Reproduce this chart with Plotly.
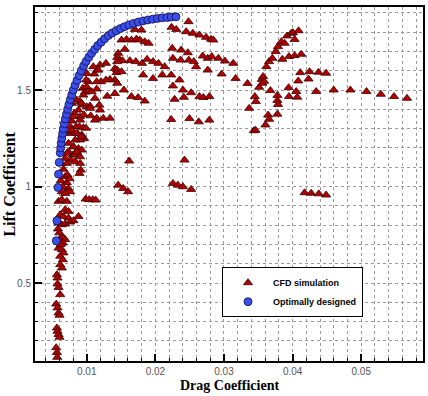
import plotly.graph_objects as go

# ---- CFD simulation samples (drag, lift) ----
cfd_drag = [
    0.00555, 0.00565, 0.00570,
    0.00565, 0.00574, 0.00589, 0.00603,
    0.00555, 0.00574, 0.00589, 0.00603,
    0.00574, 0.00589, 0.00613,
    0.00565, 0.00574,
    0.00613, 0.00637,
    0.00589, 0.00637, 0.00661, 0.00613, 0.00652,
    0.00637, 0.00661, 0.00686, 0.00652, 0.00620,
    0.00589, 0.00637, 0.00686, 0.00580, 0.00600,
    0.00613, 0.00661, 0.00734, 0.00758, 0.00807, 0.00879,
    0.00589, 0.00637, 0.00710, 0.00686, 0.00734,
    0.00985, 0.01035, 0.01085, 0.01130,
    0.00629, 0.00661, 0.00686, 0.00710, 0.00734, 0.00758, 0.00637, 0.00686, 0.00620, 0.00650,
    0.00807, 0.00879, 0.00927, 0.00864, 0.00797, 0.00768, 0.00831, 0.00903, 0.00913, 0.00894,
    0.00710, 0.00686, 0.00734, 0.00720, 0.00750,
    0.00734, 0.00797, 0.00864, 0.00927, 0.00961, 0.00903, 0.00831,
    0.00845, 0.00894, 0.00951, 0.00990,
    0.00903, 0.00961, 0.01058, 0.01145, 0.01241, 0.01338,
    0.00879, 0.00820, 0.00780, 0.00760,
    0.00903, 0.00942, 0.01000, 0.01048, 0.01183,
    0.00942, 0.00976, 0.01024, 0.01145, 0.01024, 0.00990,
    0.01299, 0.01410, 0.01541, 0.01651, 0.01748, 0.01845,
    0.01410, 0.01444, 0.01338, 0.01280, 0.01208, 0.01145,
    0.01410, 0.01444, 0.01434, 0.01507,
    0.01821, 0.01966, 0.02101, 0.02231, 0.02352,
    0.01193, 0.01280, 0.01154, 0.01111,
    0.00784, 0.00855, 0.00927, 0.00806, 0.00903, 0.00782, 0.00855, 0.00927,
    0.00734, 0.00806, 0.00855, 0.00710, 0.00903,
    0.00999, 0.01072, 0.01120, 0.01193, 0.00951, 0.01048, 0.01120,
    0.01000, 0.01096, 0.01168,
    0.01458, 0.01444, 0.01483, 0.01521, 0.01444,
    0.01628, 0.01715, 0.01806, 0.01879, 0.01966, 0.02044, 0.02135,
    0.01555,
    0.01507, 0.01579, 0.01651, 0.01724, 0.01772, 0.01845, 0.01902,
    0.01701, 0.01797,
    0.02483, 0.02236, 0.02304, 0.02449, 0.02545, 0.02642, 0.02739, 0.02811, 0.02845,
    0.02246, 0.02256, 0.02376, 0.02367, 0.02473, 0.02487, 0.02560, 0.02594, 0.02690, 0.02763,
    0.02821, 0.02763,
    0.02918, 0.03014, 0.03135, 0.02966, 0.03169, 0.03343, 0.03512,
    0.02256, 0.02401, 0.02521, 0.02642, 0.02700, 0.02787, 0.02280, 0.02415,
    0.02231, 0.02497, 0.02632, 0.02787,
    0.03367, 0.03449, 0.03464, 0.03435, 0.03459, 0.03604, 0.03643, 0.03657, 0.03778,
    0.03676, 0.03778, 0.03778, 0.03787, 0.03942, 0.03947, 0.04053, 0.04068,
    0.04343, 0.04599, 0.04841, 0.05077, 0.05285, 0.05478, 0.05667,
    0.03550, 0.03570, 0.03585, 0.03560,
    0.03618, 0.03657, 0.03705, 0.03754, 0.03787, 0.03836, 0.03918, 0.03981, 0.04029, 0.04005,
    0.04087, 0.03884,
    0.03850, 0.03947, 0.04029, 0.04126,
    0.04111, 0.04246, 0.04377, 0.04488,
    0.04082, 0.04232,
    0.01618, 0.02425,
    0.01458, 0.01531, 0.01603,
    0.02256, 0.02328, 0.02401, 0.02521,
    0.04174, 0.04271, 0.04382, 0.04488,
]
cfd_lift = [
    0.165, 0.140, 0.115,
    0.267, 0.250, 0.233, 0.219,
    0.391, 0.371, 0.345, 0.333,
    0.495, 0.477, 0.440,
    0.543, 0.526,
    0.595, 0.578,
    0.681, 0.673, 0.656, 0.639, 0.621,
    0.742, 0.733, 0.725, 0.707, 0.700,
    0.811, 0.802, 0.806, 0.780, 0.760,
    0.854, 0.845, 0.837, 0.816, 0.823, 0.845,
    0.923, 0.932, 0.923, 0.880, 0.871,
    0.935, 0.932, 0.932, 0.930,
    1.120, 1.089, 1.051, 1.020, 0.990, 0.973, 0.973, 0.964, 1.030, 1.000,
    1.206, 1.197, 1.189, 1.172, 1.163, 1.137, 1.129, 1.120, 1.085, 1.068,
    1.120, 1.146, 1.180, 1.060, 1.040,
    1.275, 1.284, 1.275, 1.267, 1.249, 1.241, 1.241,
    1.310, 1.310, 1.305, 1.302,
    1.362, 1.371, 1.366, 1.354, 1.354, 1.354,
    1.396, 1.380, 1.340, 1.310,
    1.440, 1.422, 1.413, 1.417, 1.422,
    1.509, 1.489, 1.497, 1.505, 1.543, 1.552,
    1.468, 1.482, 1.500, 1.466, 1.461, 1.443,
    1.552, 1.535, 1.555, 1.552, 1.543, 1.543,
    1.611, 1.604, 1.590, 1.595,
    1.578, 1.560, 1.578, 1.578, 1.552,
    1.630, 1.638, 1.604, 1.583,
    1.431, 1.448, 1.431, 1.362, 1.344, 1.292, 1.275, 1.258,
    1.224, 1.206, 1.180, 1.172, 1.154,
    1.517, 1.491, 1.457, 1.396, 1.474, 1.405, 1.344,
    1.586, 1.621, 1.603,
    1.690, 1.669, 1.655, 1.652, 1.647,
    1.652, 1.647, 1.638, 1.659, 1.647, 1.638, 1.621,
    1.711,
    1.759, 1.762, 1.759, 1.764, 1.759, 1.750, 1.742,
    1.814, 1.811,
    1.854, 1.825, 1.814, 1.802, 1.794, 1.785, 1.773, 1.763, 1.759,
    1.716, 1.664, 1.707, 1.655, 1.693, 1.655, 1.647, 1.621, 1.676, 1.664,
    1.673, 1.603,
    1.664, 1.650, 1.638, 1.583, 1.560, 1.534, 1.514,
    1.521, 1.500, 1.486, 1.466, 1.461, 1.466, 1.452, 1.462,
    1.347, 1.352, 1.335, 1.344,
    1.405, 1.466, 1.440, 1.289, 1.292, 1.319, 1.370, 1.348, 1.375,
    1.497, 1.472, 1.446, 1.425, 1.512, 1.466, 1.492, 1.463,
    1.492, 1.500, 1.500, 1.492, 1.478, 1.466, 1.457,
    1.555, 1.570, 1.545, 1.535,
    1.621, 1.647, 1.664, 1.699, 1.725, 1.750, 1.780, 1.794, 1.762, 1.797,
    1.807, 1.742,
    1.659, 1.673, 1.678, 1.685,
    1.590, 1.595, 1.592, 1.587,
    1.547, 1.557,
    1.132, 1.137,
    1.007, 0.990, 0.973,
    1.016, 1.007, 0.999, 0.985,
    0.968, 0.965, 0.962, 0.956,
]

# ---- Optimally designed (Pareto front) ----
opt_drag = [
    0.00556, 0.00565, 0.00580, 0.00589, 0.00599, 0.00613, 0.00620, 0.00628, 0.00637,
    0.00648, 0.00660, 0.00673, 0.00688, 0.00705, 0.00722, 0.00740, 0.00760, 0.00782,
    0.00805, 0.00830, 0.00858, 0.00888, 0.00920, 0.00955, 0.00990, 0.01030, 0.01070,
    0.01115, 0.01160, 0.01210, 0.01260, 0.01315, 0.01370, 0.01430, 0.01490, 0.01550,
    0.01615, 0.01680, 0.01750, 0.01820, 0.01890, 0.01960, 0.02030, 0.02100, 0.02170,
    0.02230, 0.02300,
]
opt_lift = [
    0.719, 0.823, 0.995, 1.064, 1.125, 1.175, 1.200, 1.225, 1.250,
    1.275, 1.300, 1.325, 1.350, 1.375, 1.400, 1.425, 1.450, 1.475,
    1.500, 1.525, 1.550, 1.575, 1.600, 1.625, 1.648, 1.670, 1.690,
    1.710, 1.730, 1.748, 1.765, 1.782, 1.795, 1.807, 1.818, 1.828,
    1.837, 1.845, 1.852, 1.858, 1.863, 1.867, 1.871, 1.874, 1.876,
    1.878, 1.879,
]

x_range = [0.00246, 0.0590]
y_range = [0.096, 1.93]

fig = go.Figure()
fig.add_trace(go.Scatter(
    x=cfd_drag, y=cfd_lift, mode="markers", name="CFD simulation",
    marker=dict(symbol="triangle-up", size=8, color="#b00000",
                line=dict(color="#3a0000", width=0.8)),
))
fig.add_trace(go.Scatter(
    x=opt_drag, y=opt_lift, mode="markers", name="Optimally designed",
    marker=dict(symbol="circle", size=8, color="#3a4ef0",
                line=dict(color="#10103a", width=0.8)),
))

grid = dict(showgrid=True, gridcolor="#9a9a9a", griddash="dot", gridwidth=1)
tickfont = dict(family="Liberation Sans, Arial", size=10, color="#555")

fig.update_xaxes(
    range=x_range, dtick=0.01, tick0=0, ticks="inside", ticklen=7, tickwidth=2,
    tickcolor="black", tickfont=tickfont, zeroline=False,
    showline=True, linewidth=2, linecolor="black", mirror=True,
    minor=dict(dtick=0.002, tick0=0, ticks="inside", ticklen=3, tickwidth=1,
               tickcolor="black", **grid),
    **grid,
)
fig.update_yaxes(
    range=y_range, dtick=0.5, tick0=0, ticks="inside", ticklen=7, tickwidth=2,
    tickcolor="black", tickfont=tickfont, zeroline=False,
    showline=True, linewidth=2, linecolor="black", mirror=True,
    minor=dict(dtick=0.1, tick0=0, ticks="inside", ticklen=3, tickwidth=1,
               tickcolor="black", **grid),
    **grid,
)

fig.update_layout(
    width=428, height=396,
    margin=dict(l=35, r=3, t=7, b=35),
    paper_bgcolor="white", plot_bgcolor="white",
    showlegend=True,
    legend=dict(
        x=0.482, y=0.265, xanchor="left", yanchor="top",
        bgcolor="white", bordercolor="black", borderwidth=1,
        font=dict(family="Liberation Sans, Arial", size=9, color="black", weight="bold"),
        tracegroupgap=0, itemwidth=40,
    ),
    annotations=[
        dict(text="<b>Drag Coefficient</b>", x=0.5, y=-0.069, xref="paper", yref="paper",
             xanchor="center", yanchor="middle", showarrow=False,
             font=dict(family="Liberation Serif", size=14, color="black")),
        dict(text="<b>Lift Coefficient</b>", x=-0.068, y=0.5, xref="paper", yref="paper",
             xanchor="center", yanchor="middle", showarrow=False, textangle=-90,
             font=dict(family="Liberation Serif", size=16, color="black")),
    ],
)

fig.write_html("out.html")
